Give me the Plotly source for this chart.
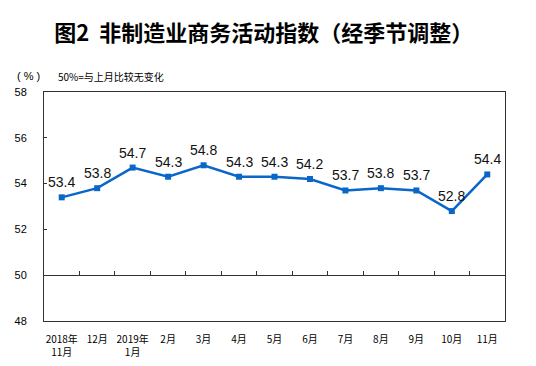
import plotly.graph_objects as go

categories = ["2018年<br>11月", "12月", "2019年<br>1月", "2月", "3月", "4月", "5月",
              "6月", "7月", "8月", "9月", "10月", "11月"]
values = [53.4, 53.8, 54.7, 54.3, 54.8, 54.3, 54.3, 54.2, 53.7, 53.8, 53.7, 52.8, 54.4]
y_ticks = [48, 50, 52, 54, 56, 58]

n = len(categories)
xs = list(range(n))
boundaries = [i + 0.5 for i in range(n - 1)]

CJK = "Noto Sans CJK SC"
BLUE = "#0a66c8"

fig = go.Figure()
fig.add_trace(go.Scatter(
    x=xs, y=values, mode="lines+markers",
    line=dict(color=BLUE, width=2.5),
    marker=dict(symbol="square", size=6, color=BLUE),
    cliponaxis=False, showlegend=False, hoverinfo="skip",
))
# invisible trace on the 50-line axis
fig.add_trace(go.Scatter(x=xs, y=values, xaxis="x2", mode="none",
                         showlegend=False, hoverinfo="skip"))

annotations = [
    dict(text=f"{v:.1f}", x=x, y=v, xref="x", yref="y", showarrow=False,
         xanchor="center", yanchor="middle", yshift=15,
         font=dict(family="Liberation Sans, Arial", size=14, color="#111"))
    for x, v in zip(xs, values)
]
annotations += [
    dict(text="( % )", xref="paper", yref="paper", x=-0.063, y=1.068,
         xanchor="left", yanchor="middle", showarrow=False,
         font=dict(family="Liberation Sans", size=11, color="#000")),
    dict(text="50%=与上月比较无变化", xref="paper", yref="paper", x=0.026, y=1.068,
         xanchor="left", yanchor="middle", showarrow=False,
         font=dict(family=CJK, size=10, color="#000")),
]

fig.update_layout(
    width=536, height=366,
    margin=dict(l=36, r=39, t=84, b=53, autoexpand=False),
    paper_bgcolor="white", plot_bgcolor="white",
    title=dict(text="<b>图2  非制造业商务活动指数（经季节调整）</b>",
               x=0.477, xanchor="center", y=0.932, yanchor="middle",
               font=dict(family=CJK, size=22, color="#000")),
    xaxis=dict(range=[-0.5, n - 0.5], tickvals=xs, ticktext=categories,
               ticks="", showline=True, mirror=True, linecolor="#333", linewidth=1,
               showgrid=False, zeroline=False, ticklabelstandoff=9, automargin=False,
               tickfont=dict(family=CJK, size=10, color="#000")),
    xaxis2=dict(range=[-0.5, n - 0.5], overlaying="x", anchor="free",
                position=(50 - y_ticks[0]) / (y_ticks[-1] - y_ticks[0]),
                tickvals=boundaries, ticks="inside", ticklen=4, tickcolor="#333",
                showticklabels=False, showline=True, linecolor="#333", linewidth=1,
                showgrid=False, zeroline=False, automargin=False),
    yaxis=dict(range=[y_ticks[0], y_ticks[-1]], tickvals=y_ticks,
               ticks="inside", ticklen=3, tickcolor="#333",
               showline=True, mirror=True, linecolor="#333", linewidth=1,
               showgrid=False, zeroline=False, ticklabelstandoff=14, automargin=False,
               tickfont=dict(family="Liberation Sans Narrow, Liberation Sans", size=11, color="#000")),
    annotations=annotations,
)

fig.write_html("out.html")
